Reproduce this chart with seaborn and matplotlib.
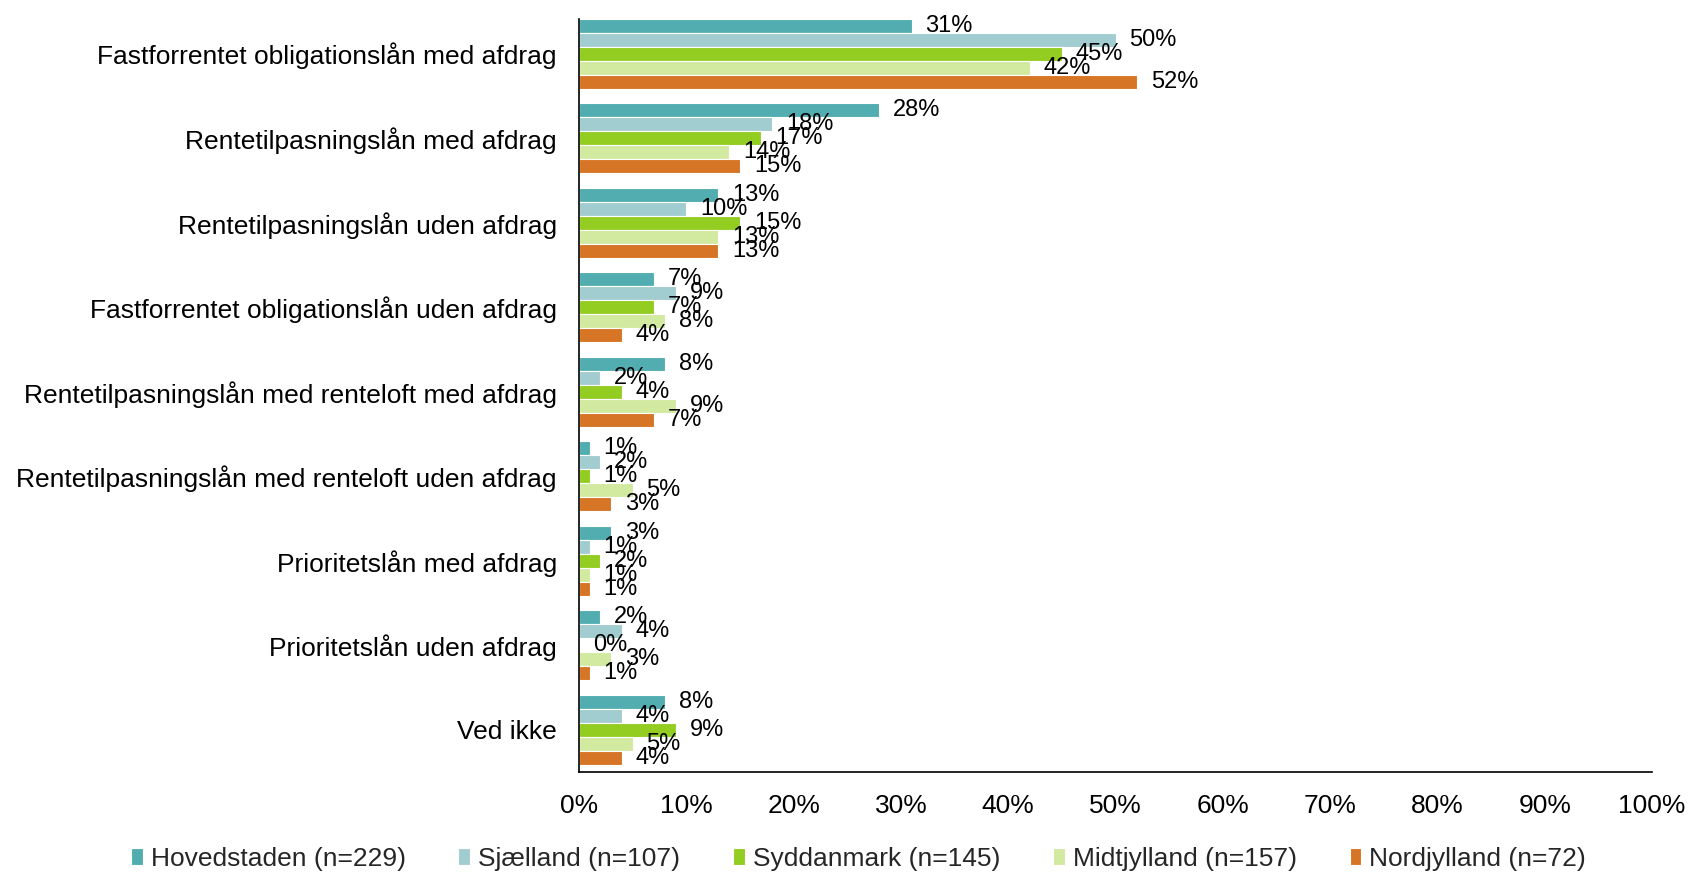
import matplotlib
matplotlib.use("Agg")
import matplotlib.pyplot as plt
import seaborn as sns
import pandas as pd

categories = [
    "Fastforrentet obligationslån med afdrag",
    "Rentetilpasningslån med afdrag",
    "Rentetilpasningslån uden afdrag",
    "Fastforrentet obligationslån uden afdrag",
    "Rentetilpasningslån med renteloft med afdrag",
    "Rentetilpasningslån med renteloft uden afdrag",
    "Prioritetslån med afdrag",
    "Prioritetslån uden afdrag",
    "Ved ikke",
]
series = [
    "Hovedstaden (n=229)",
    "Sjælland (n=107)",
    "Syddanmark (n=145)",
    "Midtjylland (n=157)",
    "Nordjylland (n=72)",
]
hovedstaden = [31, 28, 13, 7, 8, 1, 3, 2, 8]
sjaelland = [50, 18, 10, 9, 2, 2, 1, 4, 4]
syddanmark = [45, 17, 15, 7, 4, 1, 2, 0, 9]
midtjylland = [42, 14, 13, 8, 9, 5, 1, 3, 5]
nordjylland = [52, 15, 13, 4, 7, 3, 1, 1, 4]
colors = ["#52ADB0", "#A2CDD0", "#93CD22", "#D2EAA0", "#D67526"]

values = [hovedstaden, sjaelland, syddanmark, midtjylland, nordjylland]
rows = []
for s, vals in zip(series, values):
    for c, v in zip(categories, vals):
        rows.append({"Kategori": c, "Region": s, "Andel": v})
df = pd.DataFrame(rows)

sns.set_theme(style="white")
plt.rcParams["font.family"] = ["Liberation Sans", "DejaVu Sans"]

fig = plt.figure(figsize=(16.9, 8.74), dpi=100)
ax = fig.add_axes([579 / 1690, 1 - 772 / 874, (1652 - 579) / 1690, (772 - 19) / 874])

sns.barplot(data=df, y="Kategori", x="Andel", hue="Region", order=categories,
            hue_order=series, palette=colors, saturation=1, orient="h", width=0.83,
            edgecolor="white", linewidth=0.8, ax=ax, legend=True)

for cont in ax.containers:
    ax.bar_label(cont, labels=[f"{int(round(b.get_width()))}%" for b in cont],
                 padding=10, fontsize=17, color="black")

ax.set_xlim(0, 100)
ax.set_xticks(range(0, 101, 10))
ax.set_xticklabels([f"{t}%" for t in range(0, 101, 10)], fontsize=19)
ax.tick_params(axis="x", direction="out", length=6, width=1, color="black", pad=10)
ax.tick_params(axis="y", length=0, labelsize=19, pad=16)
ax.set_xlabel("")
ax.set_ylabel("")
ax.set_ylim(8.5, -0.41)
for side in ["top", "right"]:
    ax.spines[side].set_visible(False)
for side in ["left", "bottom"]:
    ax.spines[side].set_color("black")
    ax.spines[side].set_linewidth(1.2)
for lab in ax.get_yticklabels():
    lab.set_color("black")
for lab in ax.get_xticklabels():
    lab.set_color("black")

handles, labels = ax.get_legend_handles_labels()
ax.legend_.remove()
fig.legend(handles, labels, loc="center", bbox_to_anchor=(0.508, 1 - 859 / 874),
           ncol=5, frameon=False, fontsize=19, handlelength=0.45, handleheight=0.6,
           handletextpad=0.3, columnspacing=2.0)

fig.savefig("out.png", dpi=100)
